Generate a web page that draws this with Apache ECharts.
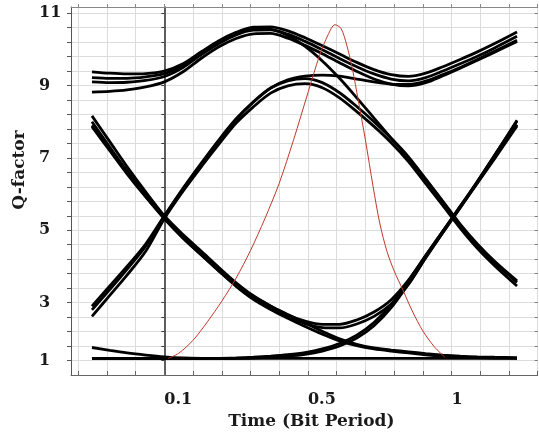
<!DOCTYPE html>
<html><head><meta charset="utf-8">
<script src="https://cdn.jsdelivr.net/npm/echarts@6/dist/echarts.min.js"></script>
<style>html,body{margin:0;padding:0;background:#fff}#c{width:539px;height:434px}</style>
</head><body><div id="c"></div>
<script>
// Tick labels as printed on the reference, and where they sit on the axes
const xTickLabels = ['0.1', '0.5', '1'];
const xTickValues = [0, 0.5, 1];
const yTickLabels = ['1', '3', '5', '7', '9', '11'];
const yTickValues = [1.4, 3, 5, 7, 9, 11];

// Sample times (bit period) shared by most traces
const T = [-0.252,-0.19,-0.13,-0.065,0,0.065,0.13,0.19,0.25,0.31,0.37,0.43,0.49,0.55,0.61,0.67,0.73,0.79,0.85,0.91,0.97,1.03,1.09,1.15,1.228];

// Eye-diagram traces: Q-factor at the times in T
const topTraceA1 = [9.38,9.34,9.32,9.33,9.40,9.60,9.94,10.24,10.47,10.61,10.62,10.51,10.32,10.10,9.87,9.64,9.44,9.30,9.25,9.34,9.52,9.72,9.93,10.16,10.48];
const topTraceA2 = [9.10,9.08,9.09,9.14,9.25,9.50,9.86,10.16,10.40,10.53,10.54,10.42,10.22,9.99,9.75,9.52,9.32,9.18,9.13,9.22,9.40,9.60,9.81,10.04,10.36];
const topTraceA3 = [8.82,8.84,8.88,8.96,9.10,9.38,9.76,10.07,10.30,10.43,10.44,10.31,10.11,9.88,9.63,9.39,9.18,9.04,8.99,9.08,9.27,9.48,9.70,9.92,10.22];
const topFallTrace = [9.22,9.20,9.20,9.24,9.33,9.56,9.90,10.20,10.43,10.56,10.55,10.38,10.08,9.68,9.20,8.66,8.10,7.54,6.99,6.40,5.78,5.14,4.58,4.10,3.56];
const riseFallB1 = [2.90,3.46,4.00,4.62,5.40,6.16,6.87,7.50,8.08,8.55,8.93,9.13,9.19,9.08,8.80,8.42,8.00,7.54,7.03,6.42,5.80,5.17,4.62,4.14,3.60];
const riseFallB2 = [2.62,3.20,3.76,4.42,5.32,6.08,6.77,7.38,7.96,8.41,8.79,8.99,9.05,8.94,8.66,8.28,7.87,7.42,6.90,6.29,5.68,5.06,4.50,4.02,3.46];
const riseHoldB3 = [2.80,3.36,3.92,4.56,5.38,6.14,6.84,7.47,8.06,8.54,8.93,9.16,9.26,9.29,9.26,9.18,9.10,9.04,9.03,9.12,9.30,9.50,9.72,9.95,10.25];
const fallC1 = [8.16,7.45,6.76,6.06,5.40,4.88,4.41,3.97,3.55,3.19,2.91,2.67,2.44,2.21,2.00,1.85,1.75,1.69,1.64,1.59,1.55,1.52,1.50,1.49,1.48];
const fallC2 = [7.90,7.24,6.59,5.94,5.32,4.79,4.31,3.87,3.45,3.09,2.81,2.57,2.34,2.13,1.94,1.81,1.72,1.66,1.61,1.56,1.52,1.50,1.48,1.47,1.46];
const valleyU1 = [8.00,7.30,6.64,5.98,5.36,4.82,4.36,3.93,3.52,3.17,2.90,2.66,2.49,2.40,2.40,2.52,2.74,3.08,3.62,4.30,4.98,5.66,6.35,7.07,8.02];
const valleyU2 = [7.86,7.20,6.56,5.92,5.32,4.78,4.31,3.88,3.47,3.12,2.85,2.62,2.42,2.31,2.30,2.41,2.62,2.96,3.50,4.24,4.94,5.63,6.32,7.02,7.92];
const riseD1 = [1.46,1.46,1.46,1.46,1.46,1.46,1.46,1.46,1.47,1.49,1.52,1.56,1.62,1.72,1.87,2.10,2.45,2.95,3.60,4.30,4.98,5.66,6.35,7.07,8.04];
const riseD2 = [1.46,1.46,1.46,1.46,1.46,1.46,1.46,1.46,1.46,1.47,1.49,1.52,1.57,1.66,1.80,2.02,2.36,2.86,3.52,4.24,4.94,5.62,6.30,6.98,7.88];
const flatBottom = [1.46,1.46,1.46,1.46,1.46,1.46,1.46,1.46,1.46,1.46,1.46,1.46,1.46,1.46,1.46,1.46,1.46,1.46,1.46,1.46,1.46,1.46,1.46,1.46,1.46];
const leftTailTimes = [-0.252,-0.19,-0.13,-0.065,0,0.065,0.13];
const leftTail = [1.76,1.68,1.61,1.55,1.50,1.47,1.46];

// Red Q-factor curve
const redTimes = [0.013,0.05,0.10,0.15,0.20,0.25,0.30,0.35,0.40,0.45,0.50,0.54,0.57,0.594,0.615,0.635,0.655,0.675,0.70,0.727,0.75,0.775,0.80,0.83,0.865,0.90,0.94,0.977];
const redQ = [1.46,1.60,1.96,2.47,3.04,3.68,4.44,5.32,6.30,7.50,8.80,9.82,10.40,10.68,10.58,10.12,9.45,8.60,7.50,6.20,5.20,4.42,3.88,3.36,2.74,2.22,1.78,1.49];

const zip = (ts, qs) => ts.map((t, i) => [t, qs[i]]);
const blackTraces = [topTraceA1, topTraceA2, topTraceA3, topFallTrace, riseFallB1, riseFallB2, riseHoldB3,
  fallC1, fallC2, valleyU1, valleyU2, riseD1, riseD2, flatBottom].map(q => zip(T, q));
blackTraces.push(zip(leftTailTimes, leftTail));

const X_MIN = -0.325, X_MAX = 1.3, Y_MIN = 1.0, Y_MAX = 11.17;
const xGrid = []; for (let k = -3; k <= 13; k++) xGrid.push(+(k * 0.1).toFixed(2));
const yGrid = []; for (let k = 0; k <= 24; k++) yGrid.push(+(1.4 + 0.4 * k).toFixed(2));

function pick(values, labels, v) {
  let best = 0;
  values.forEach((x, i) => { if (Math.abs(x - v) < Math.abs(values[best] - v)) best = i; });
  return labels[best];
}

const FONT = 'DejaVu Serif';
const lblStyle = { fontFamily: FONT, fontWeight: 'bold', fontSize: 16, color: '#1a1a1a' };

const chart = echarts.init(document.getElementById('c'), null, { renderer: 'canvas' });
chart.setOption({
  animation: false,
  backgroundColor: '#fff',
  grid: { left: 71, right: 1.3, top: 7, bottom: 59, containLabel: false, outerBoundsMode: 'none' },
  xAxis: [
    {
      type: 'value', min: X_MIN, max: X_MAX, position: 'bottom',
      axisLine: { show: true, onZero: false, lineStyle: { color: '#666', width: 1 } },
      axisTick: { show: true, inside: true, length: 4, customValues: xGrid, lineStyle: { color: '#666' } },
      axisLabel: Object.assign({ customValues: xTickValues, margin: 17, align: 'left',
        formatter: v => pick(xTickValues, xTickLabels, v) }, lblStyle),
      splitLine: { show: true, lineStyle: { color: '#dcdcdc', width: 1 } },
      name: 'Time (Bit Period)', nameLocation: 'middle', nameGap: 37,
      nameTextStyle: { fontFamily: FONT, fontWeight: 'bold', fontSize: 17, color: '#1a1a1a', padding: [0, 0, 0, 14] }
    },
    {
      type: 'value', min: X_MIN, max: X_MAX, position: 'top',
      axisLine: { show: true, onZero: false, lineStyle: { color: '#888', width: 1 } },
      axisTick: { show: true, length: 3, customValues: xGrid, lineStyle: { color: '#888' } },
      axisLabel: { show: false }, splitLine: { show: false }
    }
  ],
  yAxis: [
    {
      type: 'value', min: Y_MIN, max: Y_MAX, position: 'left',
      axisLine: { show: true, onZero: false, lineStyle: { color: '#555', width: 1 } },
      axisTick: { show: true, length: 4, customValues: yGrid, lineStyle: { color: '#555' } },
      axisLabel: Object.assign({ customValues: yTickValues, margin: 32, align: 'left',
        formatter: v => pick(yTickValues, yTickLabels, v) }, lblStyle),
      splitLine: { show: true, lineStyle: { color: '#dcdcdc', width: 1 } },
      name: 'Q-factor', nameLocation: 'middle', nameRotate: 90, nameGap: 43,
      nameTextStyle: { fontFamily: FONT, fontWeight: 'bold', fontSize: 17, color: '#1a1a1a', padding: [0, 0, 0, 42] }
    },
    {
      type: 'value', min: Y_MIN, max: Y_MAX, position: 'left',
      axisLine: { show: true, onZero: true, lineStyle: { color: '#3a3a3a', width: 1.6 } },
      axisTick: { show: true, length: 3, customValues: yGrid, lineStyle: { color: '#3a3a3a' } },
      axisLabel: { show: false }, splitLine: { show: false }
    },
    {
      type: 'value', min: Y_MIN, max: Y_MAX, position: 'right',
      axisLine: { show: false, onZero: false },
      axisTick: { show: true, inside: true, length: 3, customValues: yGrid, lineStyle: { color: '#777' } },
      axisLabel: { show: false }, splitLine: { show: false }
    }
  ],
  series: blackTraces.map(d => ({
    type: 'line', data: d, xAxisIndex: 0, yAxisIndex: 0, showSymbol: false, smooth: 0.3,
    lineStyle: { color: '#000', width: 2.8 }, silent: true, z: 3
  })).concat([{
    type: 'line', data: zip(redTimes, redQ), xAxisIndex: 0, yAxisIndex: 0, showSymbol: false, smooth: 0.3,
    lineStyle: { color: '#c0392b', width: 1 }, silent: true, z: 4
  }])
});
</script></body></html>
